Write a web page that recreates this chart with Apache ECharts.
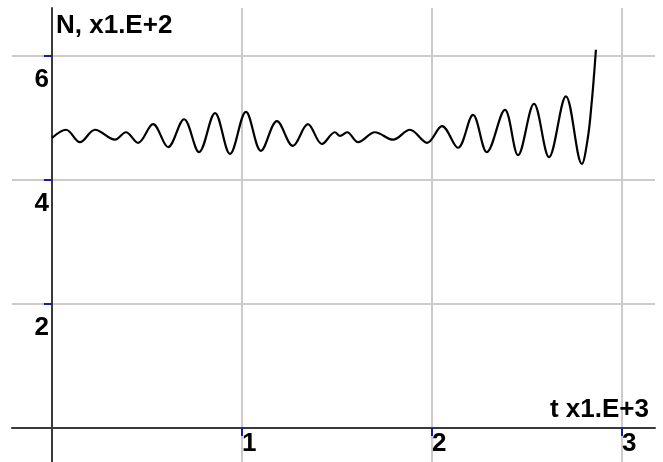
<!DOCTYPE html>
<html>
<head>
<meta charset="utf-8">
<script src="https://cdn.jsdelivr.net/npm/echarts@6/dist/echarts.min.js"></script>
<style>
html,body{margin:0;padding:0;background:#fff;}
#c{width:663px;height:462px;}
</style>
</head>
<body>
<div id="c"></div>
<script>
// time (x1.E+3) and N (x1.E+2), read from peaks/troughs of the reference curve
const tValues = [0.000, 0.074, 0.147, 0.226, 0.332, 0.389, 0.453, 0.532, 0.611, 0.695, 0.774, 0.858, 0.937, 1.021, 1.100, 1.184, 1.268, 1.347, 1.421, 1.489, 1.516, 1.553, 1.611, 1.700, 1.795, 1.884, 1.974, 2.053, 2.137, 2.216, 2.289, 2.384, 2.453, 2.537, 2.616, 2.705, 2.789, 2.821, 2.842, 2.853, 2.863];
const nValues = [4.68, 4.81, 4.61, 4.81, 4.65, 4.77, 4.60, 4.90, 4.53, 4.98, 4.45, 5.08, 4.42, 5.10, 4.47, 4.95, 4.55, 4.90, 4.58, 4.77, 4.71, 4.77, 4.61, 4.77, 4.65, 4.81, 4.60, 4.87, 4.52, 5.05, 4.45, 5.13, 4.40, 5.23, 4.37, 5.35, 4.26, 4.69, 5.29, 5.69, 6.10];
const xTicks = [1, 2, 3];
const yTicks = [2, 4, 6];
const xName = 't x1.E+3';
const yName = 'N, x1.E+2';

const data = tValues.map((t, i) => [t, nValues[i]]);
const labelFont = "'Liberation Sans', Arial, sans-serif";
const nameFont = "'Liberation Sans', Arial, sans-serif";
const X_MAX = 3.174, Y_MAX = 6.774;

const chart = echarts.init(document.getElementById('c'), null, {renderer: 'canvas'});
chart.setOption({
  animation: false,
  backgroundColor: '#ffffff',
  grid: [
    // frame grid: axis lines (crossing at origin) and grid lines, extending past the origin
    {left: 12, right: 8, top: 8, bottom: 0, containLabel: false, outerBoundsMode: 'none'},
    // data grid: origin at lower-left corner
    {left: 52, right: 8, top: 8, bottom: 34, containLabel: false, outerBoundsMode: 'none'}
  ],
  xAxis: [{
    gridIndex: 0, type: 'value', min: -0.21, max: X_MAX,
    axisLine: {show: true, onZero: true, lineStyle: {color: '#3a3a3a', width: 2}},
    axisTick: {show: true, customValues: xTicks, length: 8, inside: false, lineStyle: {color: '#1c1ca0', width: 2}},
    axisLabel: {show: false},
    splitLine: {show: true, lineStyle: {color: '#cccccc', width: 2}}
  }, {
    gridIndex: 1, type: 'value', min: 0, max: X_MAX,
    name: xName, nameLocation: 'end', nameGap: -6,
    nameTextStyle: {align: 'right', verticalAlign: 'bottom', fontFamily: nameFont, fontWeight: 'bold', fontSize: 26, color: '#000', padding: [0, 0, 5, 0]},
    axisLine: {show: false}, axisTick: {show: false}, splitLine: {show: false},
    axisLabel: {show: true, customValues: xTicks, align: 'left', verticalAlign: 'top', margin: 3, fontFamily: labelFont, fontWeight: 'bold', fontSize: 26, color: '#000'}
  }],
  yAxis: [{
    gridIndex: 0, type: 'value', min: -0.548, max: Y_MAX,
    axisLine: {show: true, onZero: true, lineStyle: {color: '#3a3a3a', width: 2}},
    axisTick: {show: true, customValues: yTicks, length: 8, inside: false, lineStyle: {color: '#1c1ca0', width: 2}},
    axisLabel: {show: false},
    splitLine: {show: true, lineStyle: {color: '#cccccc', width: 2}}
  }, {
    gridIndex: 1, type: 'value', min: 0, max: Y_MAX,
    name: yName, nameLocation: 'end', nameGap: -5,
    nameTextStyle: {align: 'left', verticalAlign: 'top', fontFamily: nameFont, fontWeight: 'bold', fontSize: 26, color: '#000', padding: [0, 0, 0, 4]},
    axisLine: {show: false}, axisTick: {show: false}, splitLine: {show: false},
    axisLabel: {show: true, customValues: yTicks, align: 'right', verticalAlign: 'top', margin: 3, padding: [11, 0, 0, 0], fontFamily: labelFont, fontWeight: 'bold', fontSize: 26, color: '#000'}
  }],
  series: [{
    type: 'line',
    xAxisIndex: 1, yAxisIndex: 1,
    data: data,
    showSymbol: false,
    smooth: 0.35,
    clip: false,
    lineStyle: {color: '#000000', width: 2.2},
    z: 5
  }]
});
</script>
</body>
</html>
